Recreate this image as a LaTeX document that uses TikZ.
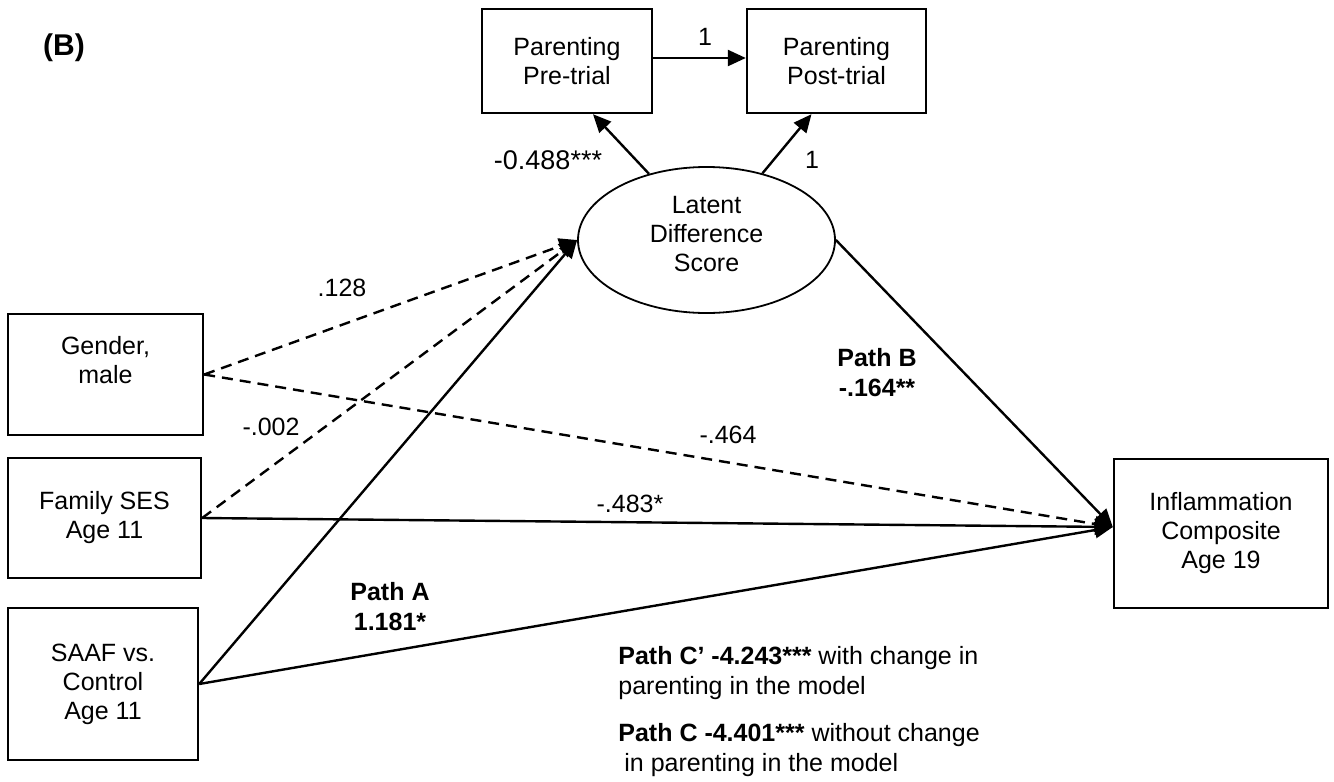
\documentclass[tikz,border=0pt]{standalone}
\usepackage{fontspec}
\setmainfont{Liberation Sans}
\usetikzlibrary{arrows.meta,shapes.geometric,calc}
\begin{document}
\begin{tikzpicture}[x=0.5pt,y=-0.5pt,
  box/.style={draw,line width=1.2pt,inner sep=0pt,align=center,font=\fontsize{12.5}{14.5}\selectfont},
  latent/.style={draw,ellipse,line width=0.9pt,inner sep=0pt,align=center,font=\fontsize{12.5}{14.5}\selectfont,minimum width=128.5pt,minimum height=73pt},
  conn/.style={line width=1.2pt,-{Triangle[length=9pt,width=8pt]}},
  dconn/.style={conn,dash pattern=on 5.5pt off 3.5pt},
  lbl/.style={inner sep=0pt,font=\fontsize{12.5}{14.5}\selectfont},
  blbl/.style={inner sep=0pt,align=center,font=\fontsize{12.5}{15}\selectfont\bfseries},
  note/.style={inner sep=0pt,align=left,anchor=north west,font=\fontsize{12.5}{15}\selectfont}]
\useasboundingbox (0,0) rectangle (1334,782);

% nodes
\node[box,minimum width=85pt,minimum height=52pt] (pre) at (567,61) {Parenting\\Pre-trial};
\node[box,minimum width=89.5pt,minimum height=52pt] (post) at (836.5,61) {Parenting\\Post-trial};
\node[latent] (lds) at (706.5,240) {Latent\\Difference\\Score\rule[-6pt]{0pt}{6pt}};
\node[box,minimum width=97.5pt,minimum height=60.5pt] (gender) at (105.5,374.5) {Gender,\\male\\\mbox{}};
\node[box,minimum width=96.5pt,minimum height=60pt] (ses) at (104.5,518) {Family SES\\Age 11};
\node[box,minimum width=95pt,minimum height=76pt] (saaf) at (103,684) {SAAF vs.\\Control\\Age 11};
\node[box,minimum width=107pt,minimum height=74.5pt] (inf) at (1221,533.5) {Inflammation\\Composite\\Age 19};
\coordinate (inT) at ($(inf.west)+(0,-6.5)$);

% connectors
\draw[conn] ($(pre.east)+(0,-3)$) -- ($(post.west)+(0,-3)$);
\draw[conn] (lds.131) -- ($(pre.south)+(26,0)$);
\draw[conn] (lds.50) -- ($(post.south)+(-25,0)$);
\draw[dconn] (gender.east) -- (lds.west);
\draw[dconn] (ses.east) -- (lds.west);
\draw[conn] (saaf.east) -- (lds.west);
\draw[dconn] (gender.east) -- (inT);
\draw[conn] (ses.east) -- (inT);
\draw[conn] (saaf.east) -- (inT);
\draw[conn] (lds.east) -- (inT);

% labels
\node[inner sep=0pt,font=\fontsize{15}{18}\selectfont\bfseries] (lblB) at (64,48) {(B)};
\node[lbl] (l1a) at (705,37) {1};
\node[lbl,font=\fontsize{13.5}{16}\selectfont] (l488) at (548,160) {-0.488***};
\node[lbl] (l1b) at (812,160) {1};
\node[lbl] (l128) at (342,288) {.128};
\node[lbl] (l002) at (271,427) {-.002};
\node[lbl] (l464) at (728,435) {-.464};
\node[lbl] (l483) at (630,504) {-.483*};
\node[blbl] (pA) at (390,607) {Path A\\1.181*};
\node[blbl] (pB) at (877,373) {Path B\\-.164**};
\node[note] (nC1) at (618,646) {\textbf{Path C’ -4.243***} with change in\\parenting in the model};
\node[note] (nC2) at (618,723) {\textbf{Path C -4.401***} without change\\\hspace*{3pt}in parenting in the model};
\end{tikzpicture}
\end{document}
